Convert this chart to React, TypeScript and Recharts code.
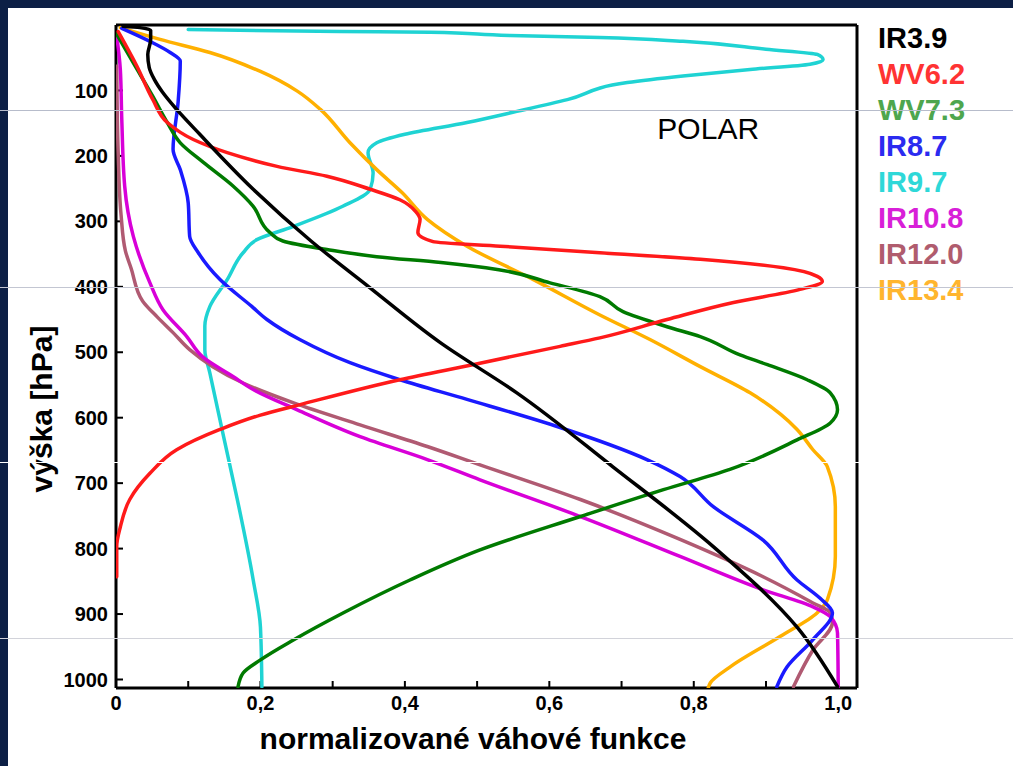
import React from 'react';
import { ScatterChart, Scatter, XAxis, YAxis, Legend, ReferenceDot } from 'recharts';

type Pt = { v: number; p: number };
const pts = (rows: number[][]): Pt[] => rows.map(([v, p]) => ({ v, p }));

// normalized weighting function (v) vs pressure in hPa (p)
const ir39 = pts([
  [0.01, 2], [0.033, 4], [0.048, 8], [0.048, 22], [0.044, 45], [0.046, 65], [0.053, 83],
  [0.064, 102], [0.084, 129], [0.116, 167], [0.19, 251], [0.27, 330], [0.35, 400],
  [0.45, 486], [0.555, 562], [0.688, 675], [0.827, 797], [0.943, 920], [0.999, 1011],
]);

const wv62 = pts([
  [0.003, 10], [0.029, 63], [0.051, 114], [0.071, 149], [0.107, 175], [0.154, 195],
  [0.223, 216], [0.292, 231], [0.352, 251], [0.393, 267], [0.415, 285], [0.421, 297],
  [0.418, 317], [0.439, 331], [0.532, 338], [0.67, 348], [0.809, 358], [0.924, 371],
  [0.971, 384], [0.978, 392], [0.947, 404], [0.855, 424], [0.763, 450], [0.67, 478],
  [0.615, 491], [0.494, 519], [0.393, 542], [0.255, 580], [0.2, 596],
  [0.144, 618], [0.084, 649], [0.047, 685], [0.019, 725], [0.006, 767], [0.001, 797],
  [0.001, 843],
]);

const wv73 = pts([
  [0.001, 14], [0.024, 58], [0.051, 109], [0.071, 149], [0.089, 180], [0.121, 210],
  [0.162, 246], [0.19, 277], [0.213, 317], [0.231, 330], [0.292, 343], [0.361, 354],
  [0.45, 363], [0.53, 374], [0.601, 394], [0.67, 415], [0.702, 438], [0.763, 461],
  [0.809, 476], [0.864, 504], [0.902, 519], [0.957, 542], [0.989, 562], [0.999, 588],
  [0.989, 608], [0.943, 634], [0.85, 679], [0.758, 710], [0.643, 751], [0.504, 802],
  [0.407, 848], [0.315, 898], [0.245, 940], [0.2, 970], [0.176, 990], [0.169, 1011],
]);

const ir87 = pts([
  [0.008, 5], [0.047, 25], [0.075, 42], [0.089, 55], [0.086, 118], [0.079, 190],
  [0.089, 221], [0.1, 272], [0.102, 323], [0.114, 348], [0.144, 389], [0.188, 430],
  [0.209, 450], [0.255, 481], [0.324, 516], [0.393, 542], [0.486, 572], [0.615, 615],
  [0.735, 664], [0.781, 690], [0.827, 736], [0.896, 787], [0.943, 848], [0.975, 876],
  [0.992, 898], [0.965, 939], [0.929, 981], [0.915, 1011],
]);

const ir97 = pts([
  [0.1, 7], [0.31, 10], [0.435, 11], [0.546, 16], [0.67, 19], [0.785, 25], [0.9, 37],
  [0.971, 45], [0.979, 53], [0.961, 60], [0.878, 68], [0.785, 78], [0.708, 88],
  [0.625, 114], [0.555, 132], [0.486, 149], [0.4, 167], [0.361, 180], [0.349, 195],
  [0.356, 226], [0.352, 251], [0.314, 277], [0.245, 308], [0.195, 328], [0.176, 348],
  [0.154, 389], [0.13, 430], [0.123, 460], [0.123, 496], [0.13, 532], [0.148, 624],
  [0.168, 725], [0.19, 848], [0.2, 920], [0.202, 1011],
]);

const ir108 = pts([
  [0.001, 17], [0.006, 68], [0.008, 144], [0.012, 246], [0.024, 323], [0.047, 394],
  [0.065, 435], [0.098, 476], [0.12, 507], [0.162, 537], [0.19, 557], [0.251, 588],
  [0.338, 629], [0.431, 664], [0.504, 695], [0.643, 751], [0.781, 812], [0.896, 863],
  [0.965, 889], [0.989, 904], [0.999, 929], [1.0, 1011],
]);

const ir120 = pts([
  [0.001, 63], [0.003, 195], [0.007, 290], [0.013, 345], [0.021, 372], [0.037, 422],
  [0.057, 446], [0.079, 470], [0.102, 496], [0.134, 522], [0.176, 547], [0.245, 577],
  [0.338, 611], [0.431, 644], [0.504, 672], [0.643, 725], [0.781, 786], [0.896, 843],
  [0.965, 883], [0.989, 898], [0.992, 913], [0.965, 955], [0.938, 1011],
]);

const ir134 = pts([
  [0.006, 4], [0.061, 22], [0.13, 42], [0.2, 71], [0.251, 101], [0.283, 129],
  [0.324, 180], [0.361, 221], [0.396, 256], [0.431, 297], [0.486, 338], [0.578, 389],
  [0.67, 443], [0.74, 481], [0.809, 522], [0.878, 562], [0.943, 618], [0.965, 649],
  [0.985, 675], [0.996, 736], [0.996, 812], [0.985, 878], [0.971, 898], [0.92, 934],
  [0.85, 981], [0.823, 1005], [0.82, 1013],
]);

const xTicks = [0, 0.1, 0.2, 0.3, 0.4, 0.5, 0.6, 0.7, 0.8, 0.9, 1.0];
const yTicks = [100, 200, 300, 400, 500, 600, 700, 800, 900, 1000];

const series = [
  { name: 'IR3.9', data: ir39, line: '#000000', text: '#000000' },
  { name: 'WV6.2', data: wv62, line: '#ff1a1a', text: '#ff3333' },
  { name: 'WV7.3', data: wv73, line: '#007a00', text: '#4ea64e' },
  { name: 'IR8.7', data: ir87, line: '#1a1aff', text: '#2b2bf0' },
  { name: 'IR9.7', data: ir97, line: '#1fd3d3', text: '#2ed8d8' },
  { name: 'IR10.8', data: ir108, line: '#d800d8', text: '#d81fd8' },
  { name: 'IR12.0', data: ir120, line: '#b05a72', text: '#b05c6e' },
  { name: 'IR13.4', data: ir134, line: '#ffb000', text: '#ffb52e' },
];
const drawOrder = ['IR9.7', 'IR13.4', 'IR12.0', 'IR10.8', 'IR8.7', 'WV7.3', 'WV6.2', 'IR3.9'];

const FONT = '"Liberation Sans", Arial, Helvetica, sans-serif';

const fmtX = (v: number) => {
  const tenth = Math.round(v * 10);
  if (tenth % 2 !== 0) return '';
  return tenth === 0 ? '0' : v.toFixed(1).replace('.', ',');
};

const tickStyle = { fontSize: 20, fontWeight: 'bold' as const, fill: '#000', fontFamily: FONT };
const axisLine = { stroke: '#000', strokeWidth: 3 };
const tickLine = { stroke: '#000', strokeWidth: 2 };

const LegendBox = () => (
  <div style={{ fontFamily: FONT, fontWeight: 'bold', fontSize: 29, lineHeight: '36px' }}>
    {series.map((s) => (
      <div key={s.name} style={{ color: s.text }}>{s.name}</div>
    ))}
  </div>
);

const scanLines = [
  { y: 110, color: '#b7bccb' },
  { y: 287, color: '#c3c6d2' },
  { y: 462, color: '#ffffff' },
  { y: 638, color: '#d2d3da' },
];

export default function App() {
  return (
    <div style={{ position: 'absolute', left: 0, top: 0, width: 1013, height: 766, background: '#0c1f45', overflow: 'hidden' }}>
      <div style={{ position: 'absolute', left: 8, top: 8, width: 1005, height: 758, background: '#fff' }} />
      <div style={{ position: 'absolute', left: 0, top: 0 }}>
        <ScatterChart width={1013} height={766} margin={{ top: 24, right: 155, bottom: 38, left: 36 }}>
          <XAxis
            xAxisId="bottom"
            dataKey="v"
            type="number"
            domain={[0, 1.026]}
            allowDataOverflow
            ticks={xTicks}
            tickFormatter={fmtX}
            interval={0}
            height={40}
            tickSize={-7}
            tickMargin={15}
            axisLine={axisLine}
            tickLine={tickLine}
            tick={tickStyle}
            label={() => (
              <text x={473} y={738} textAnchor="middle" dominantBaseline="central" fontFamily={FONT} fontWeight="bold" fontSize={30} fill="#000">
                normalizované váhové funkce
              </text>
            )}
          />
          <XAxis
            xAxisId="top"
            dataKey="v"
            orientation="top"
            type="number"
            domain={[0, 1.026]}
            allowDataOverflow
            ticks={xTicks}
            interval={0}
            height={1}
            tickSize={-7}
            tick={false}
            axisLine={axisLine}
            tickLine={tickLine}
          />
          <YAxis
            yAxisId="left"
            dataKey="p"
            type="number"
            domain={[0, 1013]}
            allowDataOverflow
            reversed
            ticks={yTicks}
            interval={0}
            width={80}
            tickSize={-7}
            tickMargin={15}
            axisLine={axisLine}
            tickLine={tickLine}
            tick={tickStyle}
            label={() => (
              <text x={41} y={409} transform="rotate(-90 41 409)" textAnchor="middle" dominantBaseline="central" fontFamily={FONT} fontWeight="bold" fontSize={30} fill="#000">
                výška [hPa]
              </text>
            )}
          />
          <YAxis
            yAxisId="right"
            dataKey="p"
            orientation="right"
            type="number"
            domain={[0, 1013]}
            allowDataOverflow
            reversed
            ticks={yTicks}
            interval={0}
            width={1}
            tickSize={-7}
            tick={false}
            axisLine={axisLine}
            tickLine={tickLine}
          />
          {/* invisible series so the top and right frame axes get drawn */}
          <Scatter
            name="frame"
            xAxisId="top"
            yAxisId="right"
            data={ir39}
            legendType="none"
            shape={() => <g />}
            isAnimationActive={false}
          />
          {drawOrder.map((n) => {
            const s = series.find((x) => x.name === n)!;
            return (
              <Scatter
                key={s.name}
                name={s.name}
                xAxisId="bottom"
                yAxisId="left"
                data={s.data}
                fill={s.line}
                line={{ stroke: s.line, strokeWidth: 3.5, strokeLinejoin: 'round', strokeLinecap: 'round' }}
                lineJointType="monotoneY"
                shape={() => <g />}
                isAnimationActive={false}
              />
            );
          })}
          <ReferenceDot
            xAxisId="bottom"
            yAxisId="left"
            x={0.82}
            y={158}
            r={0}
            fill="none"
            stroke="none"
            label={{ value: 'POLAR', position: 'center', fontSize: 30, fill: '#000', fontFamily: FONT }}
          />
          <Legend
            layout="vertical"
            align="center"
            verticalAlign="middle"
            content={() => <LegendBox />}
            wrapperStyle={{ position: 'absolute', left: 878, top: 20, width: 130 }}
          />
        </ScatterChart>
      </div>
      {scanLines.map((l) => (
        <div key={l.y} style={{ position: 'absolute', left: 0, top: l.y, width: 1013, height: 1, background: l.color, pointerEvents: 'none' }} />
      ))}
    </div>
  );
}
